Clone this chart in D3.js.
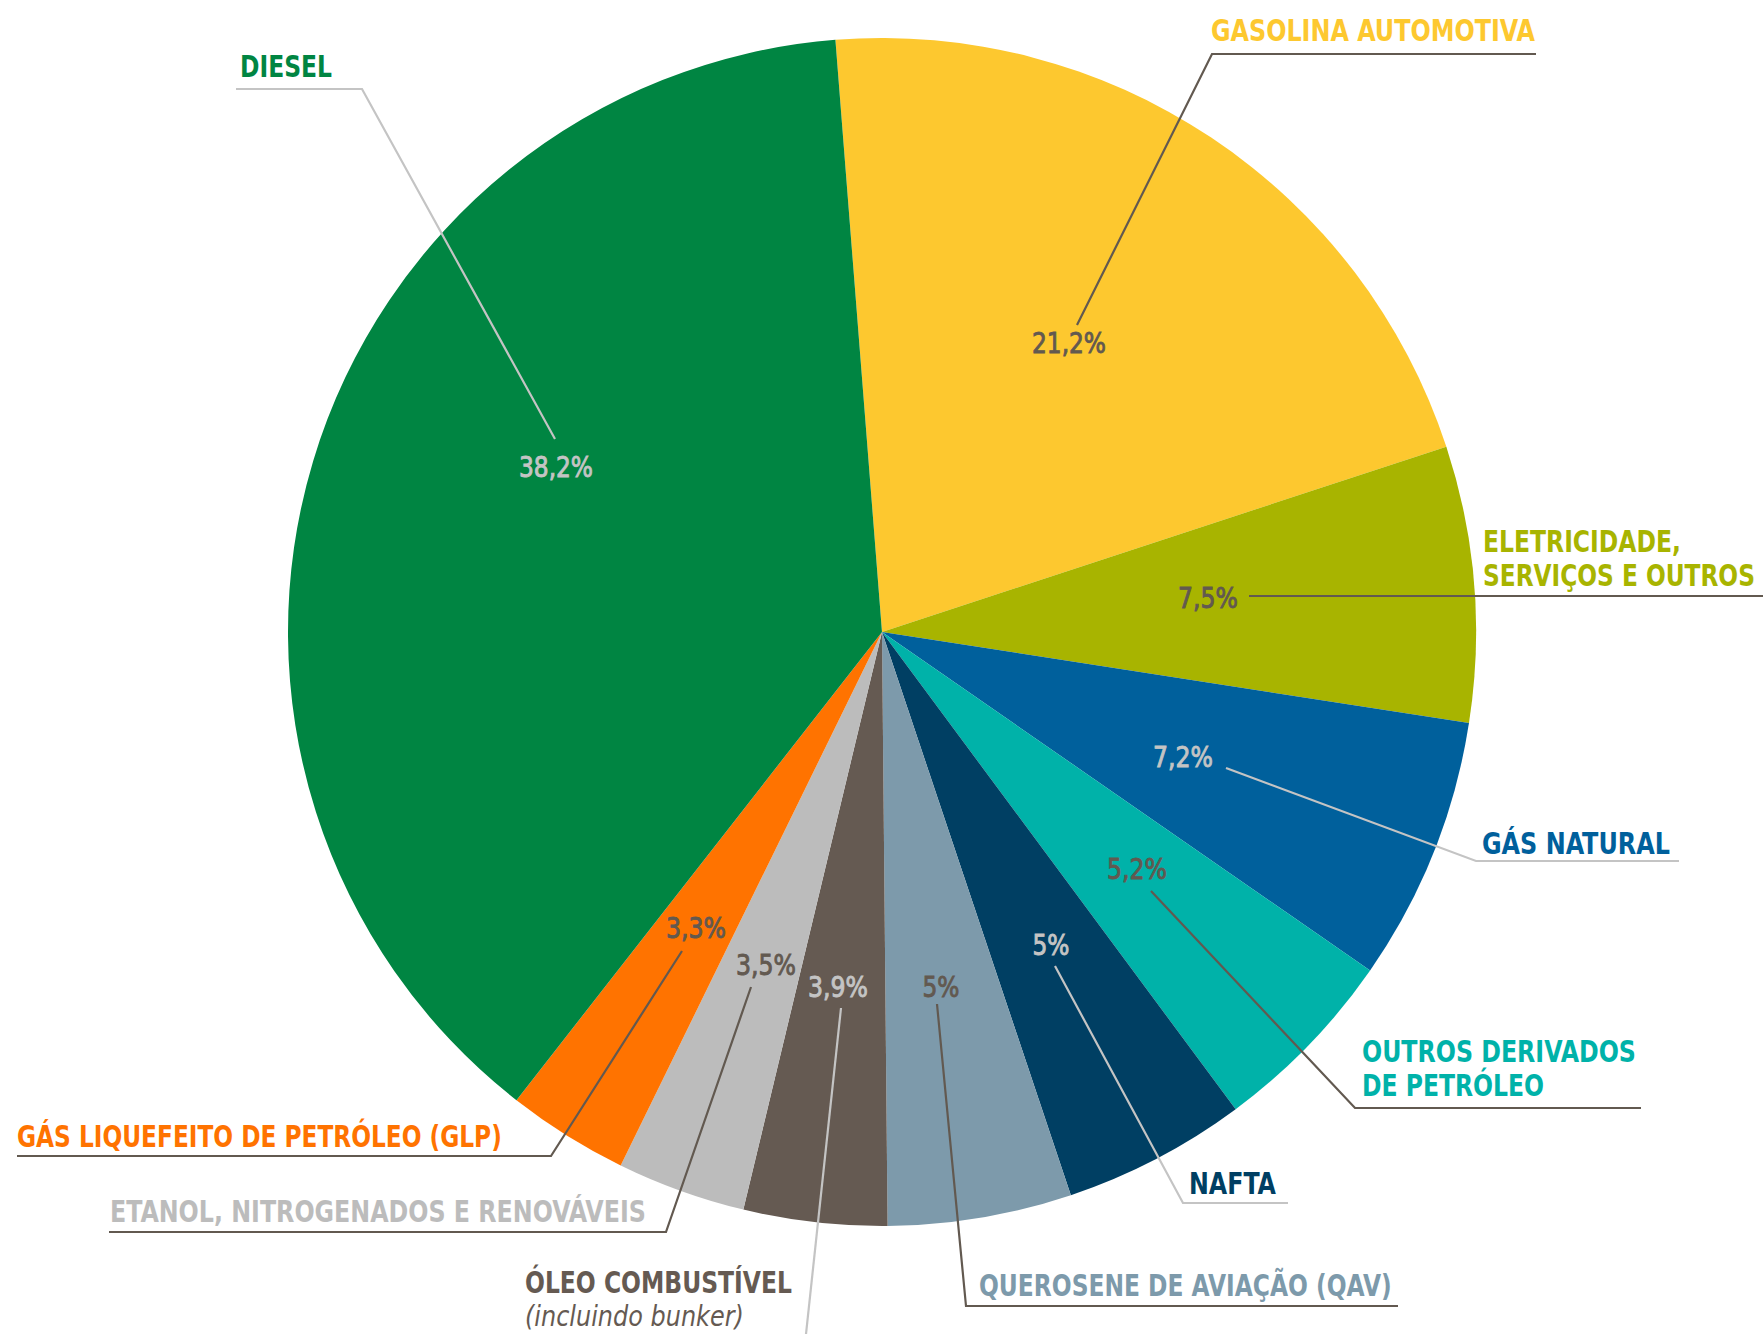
<!DOCTYPE html>
<html>
<head>
<meta charset="utf-8">
<script src="https://cdn.jsdelivr.net/npm/d3@7/dist/d3.min.js"></script>
<style>
    html, body { margin: 0; padding: 0; background: #fff; }
    svg { display: block; font-family: "DejaVu Sans Condensed", "DejaVu Sans", sans-serif; }
</style>
</head>
<body>
<svg id="chart" width="1763" height="1334"></svg>
<script>
    // Data
    var categories = ['Gasolina automotiva', 'Eletricidade, serviços e outros', 'Gás natural',
        'Outros derivados de petróleo', 'Nafta', 'Querosene de aviação (QAV)', 'Óleo combustível',
        'Etanol, nitrogenados e renováveis', 'Gás liquefeito de petróleo (GLP)', 'Diesel'];
    var values = [21.2, 7.5, 7.2, 5.2, 5, 5, 3.9, 3.5, 3.3, 38.2];
    var valueLabels = ['21,2%', '7,5%', '7,2%', '5,2%', '5%', '5%', '3,9%', '3,5%', '3,3%', '38,2%'];
    var nameLines = [
        ['GASOLINA AUTOMOTIVA'],
        ['ELETRICIDADE,', 'SERVIÇOS E OUTROS'],
        ['GÁS NATURAL'],
        ['OUTROS DERIVADOS', 'DE PETRÓLEO'],
        ['NAFTA'],
        ['QUEROSENE DE AVIAÇÃO (QAV)'],
        ['ÓLEO COMBUSTÍVEL'],
        ['ETANOL, NITROGENADOS E RENOVÁVEIS'],
        ['GÁS LIQUEFEITO DE PETRÓLEO (GLP)'],
        ['DIESEL']
    ];
    var subNotes = ['', '', '', '', '', '', '(incluindo bunker)', '', '', ''];

    // Styles
    var colors = ['#fdc82f', '#a8b400', '#00609c', '#00b2a9', '#003f63', '#7d9aab', '#655a52', '#bcbcbc', '#ff7300', '#008542'];
    var textColors = ['#fdc82f', '#a8b400', '#00609c', '#00b2a9', '#003f63', '#7d9aab', '#655a52', '#bcbcbc', '#ff7300', '#008542'];
    var dark = '#625950', light = '#c4c4c4';
    var pctColors = [dark, dark, light, dark, light, dark, light, dark, dark, light];
    var lineColors = [dark, dark, light, dark, light, dark, light, dark, dark, light];

    // Callout layout: value label (center x, baseline y, width), leader line, name (left x, baseline y, widths per line)
    var callouts = [
        {pct: [1069, 353], pw: 74, line: [[1077, 325], [1212, 54], [1536, 54]], name: [1211, 41], nw: [324]},
        {pct: [1208, 608], pw: 60, line: [[1249, 596], [1763, 596]], name: [1483, 552], nw: [198, 272]},
        {pct: [1183, 767], pw: 60, line: [[1226, 768], [1476, 861], [1679, 861]], name: [1482, 854], nw: [188]},
        {pct: [1137, 879], pw: 60, line: [[1151, 891], [1355, 1108], [1641, 1108]], name: [1362, 1062], nw: [274, 182]},
        {pct: [1051, 955], pw: 37, line: [[1055, 966], [1183, 1203], [1288, 1203]], name: [1189, 1194], nw: [87]},
        {pct: [941, 997], pw: 37, line: [[937, 1004], [966, 1306], [1398, 1306]], name: [979, 1296], nw: [413]},
        {pct: [838, 997], pw: 60, line: [[841, 1008], [806, 1334]], name: [525, 1293], nw: [267], sw: 219},
        {pct: [766, 975], pw: 60, line: [[751, 987], [666, 1232], [109, 1232]], name: [110, 1222], nw: [536]},
        {pct: [696, 938], pw: 60, line: [[682, 951], [551, 1156], [17, 1156]], name: [17, 1147], nw: [485]},
        {pct: [556, 477], pw: 74, line: [[555, 439], [362, 89], [236, 89]], name: [240, 77], nw: [92]}
    ];

    var cx = 882, cy = 632, radius = 594;
    var offset = -4.5 * Math.PI / 180;

    var svg = d3.select('#chart');

    // squeeze a text horizontally to a given width (the reference uses a condensed face)
    function fit(text, x, y, width, anchor) {
        var w = text.node().getComputedTextLength();
        var sx = width / w;
        var dx = anchor === 'middle' ? -width / 2 : 0;
        text.attr('x', 0).attr('y', 0)
            .attr('transform', 'translate(' + (x + dx) + ',' + y + ') scale(' + sx + ',1)');
    }

    var pie = d3.pie()
        .sort(null)
        .startAngle(offset)
        .endAngle(2 * Math.PI + offset);

    var arc = d3.arc().innerRadius(0).outerRadius(radius);

    svg.append('g')
        .attr('transform', 'translate(' + cx + ',' + cy + ')')
        .selectAll('path')
        .data(pie(values))
        .enter().append('path')
        .attr('d', arc)
        .attr('fill', function(d, i) { return colors[i]; });

    // leader lines
    var line = d3.line();
    svg.append('g')
        .selectAll('path')
        .data(callouts)
        .enter().append('path')
        .attr('d', function(d) { return line(d.line); })
        .attr('fill', 'none')
        .attr('stroke', function(d, i) { return lineColors[i]; })
        .attr('stroke-width', 2.2);

    // value labels
    svg.append('g')
        .selectAll('text')
        .data(callouts)
        .enter().append('text')
        .attr('font-size', '29px')
        .attr('fill', function(d, i) { return pctColors[i]; })
        .attr('stroke', function(d, i) { return pctColors[i]; })
        .attr('stroke-width', 0.9)
        .text(function(d, i) { return valueLabels[i]; })
        .each(function(d) { fit(d3.select(this), d.pct[0], d.pct[1], d.pw, 'middle'); });

    // category names, one text per line so each can be fitted
    var names = svg.append('g')
        .selectAll('g')
        .data(callouts)
        .enter().append('g')
        .attr('fill', function(d, i) { return textColors[i]; });

    names.each(function(d, i) {
        d3.select(this).selectAll('text')
            .data(nameLines[i])
            .enter().append('text')
            .attr('font-size', '30px')
            .attr('font-weight', 'bold')
            .text(function(t) { return t; })
            .each(function(t, j) { fit(d3.select(this), d.name[0], d.name[1] + j * 34, d.nw[j]); });
    });

    svg.append('g')
        .selectAll('text')
        .data(callouts.filter(function(d, i) { return subNotes[i]; }))
        .enter().append('text')
        .attr('font-size', '28px')
        .attr('font-style', 'italic')
        .attr('fill', '#655a52')
        .text(subNotes[6])
        .each(function(d) { fit(d3.select(this), d.name[0], d.name[1] + 33, d.sw); });
</script>
</body>
</html>
